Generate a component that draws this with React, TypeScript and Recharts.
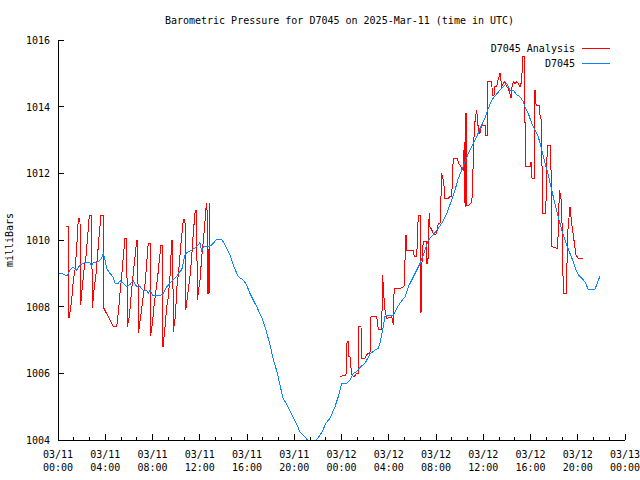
import React from 'react';
import { LineChart, Line, XAxis, YAxis } from 'recharts';

// ---- Data (hours since 2025-03-11 00:00 UTC, millibars) ----
const blueSeries: [number, number][] = [
  [0, 1009.01], [0.31, 1009.0], [0.74, 1008.92], [1.02, 1009.1], [1.27, 1009.19], [1.58, 1009.1],
  [1.86, 1009.25], [2.29, 1009.32], [2.71, 1009.32], [2.85, 1009.22], [2.99, 1009.32], [3.41, 1009.35],
  [3.7, 1009.45], [3.83, 1009.6], [3.98, 1009.4], [4.12, 1009.15], [4.4, 1009.0], [4.68, 1008.88],
  [4.83, 1008.7], [5.1, 1008.7], [5.25, 1008.78], [5.53, 1008.7], [5.82, 1008.6], [6.1, 1008.67],
  [6.37, 1008.78], [6.66, 1008.6], [6.94, 1008.6], [7.22, 1008.5], [7.51, 1008.5], [7.64, 1008.4],
  [7.79, 1008.5], [8.07, 1008.32], [8.36, 1008.35], [8.63, 1008.32], [8.91, 1008.4], [9.2, 1008.6],
  [9.48, 1008.7], [9.76, 1008.82], [10.05, 1008.9], [10.18, 1009.0], [10.47, 1009.1], [10.75, 1009.55],
  [10.9, 1009.62], [11.32, 1009.7], [11.74, 1009.8], [12.02, 1009.92], [12.17, 1009.65], [12.3, 1009.8],
  [12.72, 1009.8], [13.01, 1009.85], [13.43, 1010.02], [13.86, 1010.02], [14.14, 1009.85], [14.42, 1009.65],
  [14.56, 1009.55], [14.84, 1009.25], [15.26, 1008.9], [15.69, 1008.8], [15.97, 1008.65], [16.25, 1008.4],
  [16.53, 1008.2], [16.82, 1008.0], [17.27, 1007.66], [17.61, 1007.3], [17.95, 1006.85], [18.2, 1006.46],
  [18.54, 1006.04], [18.79, 1005.65], [19.05, 1005.26], [19.39, 1005.05], [19.81, 1004.75], [20.23, 1004.45],
  [20.49, 1004.24], [20.91, 1004.09], [21.33, 1003.91], [21.76, 1003.94], [22.01, 1004.06], [22.35, 1004.24],
  [22.69, 1004.51], [23.03, 1004.65], [23.45, 1005.0], [23.73, 1005.3], [24.02, 1005.7], [24.44, 1005.7],
  [24.72, 1005.8], [25.0, 1006.0], [25.28, 1006.05], [25.56, 1006.18], [25.99, 1006.3], [26.41, 1006.58],
  [26.84, 1006.7], [27.12, 1006.75], [27.26, 1006.9], [27.54, 1007.4], [27.68, 1007.7], [27.96, 1007.75],
  [28.39, 1007.75], [28.67, 1007.95], [28.95, 1008.1], [29.38, 1008.3], [29.66, 1008.6], [29.95, 1008.8],
  [30.65, 1009.3], [30.92, 1009.55], [31.35, 1010.0], [31.77, 1010.15], [32.19, 1010.35], [32.48, 1010.5],
  [32.91, 1010.8], [33.33, 1011.2], [33.61, 1011.5], [33.89, 1011.85], [34.18, 1012.1], [34.46, 1012.35],
  [34.74, 1012.6], [35.16, 1012.9], [35.45, 1013.1], [35.73, 1013.35], [36.15, 1013.65], [36.43, 1013.95],
  [36.72, 1014.2], [37.42, 1014.5], [37.99, 1014.7], [38.27, 1014.5], [38.54, 1014.5], [38.83, 1014.35],
  [39.11, 1014.3], [39.39, 1014.15], [39.53, 1014.0], [39.81, 1013.8], [40.1, 1013.5], [40.38, 1013.3],
  [40.66, 1013.1], [40.95, 1012.7], [41.23, 1012.3], [41.51, 1011.95], [41.79, 1011.5], [42.07, 1011.1],
  [42.35, 1010.7], [42.64, 1010.3], [43.06, 1009.85], [43.34, 1009.6], [43.62, 1009.35], [43.85, 1009.1],
  [44.05, 1008.95], [44.33, 1008.85], [44.61, 1008.75], [44.89, 1008.52], [45.46, 1008.52], [45.88, 1008.92],
];

const analysisDay1: [number, number][] = [
  [0.68, 1010.42], [0.89, 1010.42], [0.93, 1007.66], [1.02, 1007.85], [1.16, 1008.2], [1.3, 1008.8],
  [1.44, 1009.1], [1.58, 1009.76], [1.72, 1010.65], [1.86, 1010.65], [1.92, 1008.05], [2.06, 1008.6],
  [2.2, 1009.1], [2.37, 1009.5], [2.51, 1010.1], [2.65, 1010.75], [2.85, 1010.75], [2.9, 1007.95],
  [3.05, 1008.5], [3.22, 1009.0], [3.36, 1009.6], [3.5, 1010.2], [3.64, 1010.75], [3.83, 1010.75],
  [3.89, 1007.95], [4.68, 1007.4], [4.97, 1007.4], [5.1, 1007.8], [5.25, 1008.4], [5.39, 1008.9],
  [5.53, 1009.5], [5.67, 1010.05], [5.82, 1010.05], [5.87, 1007.4], [6.04, 1007.7], [6.18, 1008.3],
  [6.37, 1009.0], [6.52, 1009.5], [6.66, 1010.0], [6.75, 1010.0], [6.8, 1007.2], [7.0, 1007.7],
  [7.17, 1008.2], [7.37, 1008.7], [7.51, 1009.3], [7.64, 1009.9], [7.79, 1009.9], [7.85, 1007.13],
  [8.02, 1007.6], [8.15, 1008.1], [8.3, 1008.5], [8.44, 1008.9], [8.58, 1009.4], [8.72, 1009.85],
  [8.83, 1009.85], [8.89, 1006.8], [9.06, 1007.4], [9.2, 1008.0], [9.34, 1008.3], [9.48, 1008.9],
  [9.63, 1010.0], [9.71, 1010.0], [9.76, 1007.25], [9.93, 1007.7], [10.07, 1008.6], [10.22, 1009.1],
  [10.41, 1009.9], [10.61, 1010.62], [10.75, 1010.62], [10.81, 1007.9], [11.03, 1008.5], [11.17, 1008.9],
  [11.32, 1009.5], [11.45, 1010.2], [11.62, 1010.9], [11.74, 1010.9], [11.79, 1008.2], [12.02, 1008.8],
  [12.17, 1009.5], [12.36, 1010.2], [12.53, 1010.95], [12.61, 1011.1], [12.67, 1008.4], [12.76, 1008.4],
  [12.81, 1011.1], [12.84, 1008.4],
];

const analysisDay2: [number, number][] = [
  [23.87, 1005.9], [24.38, 1005.95], [24.47, 1006.95], [24.58, 1006.95], [24.59, 1006.5], [24.72, 1006.5],
  [24.86, 1005.95], [25.08, 1005.9], [25.29, 1006.0], [25.4, 1006.0], [25.48, 1007.4], [25.65, 1007.4],
  [25.71, 1006.45], [25.99, 1006.45], [26.13, 1006.55], [26.27, 1006.6], [26.41, 1006.6], [26.5, 1007.7],
  [26.98, 1007.7], [27.06, 1007.45], [27.12, 1007.32], [27.4, 1007.32], [27.49, 1008.95], [27.54, 1008.5],
  [27.68, 1007.9], [27.83, 1007.65], [28.25, 1007.7], [28.39, 1007.45], [28.4, 1008.3], [28.53, 1008.55],
  [28.95, 1008.55], [29.29, 1008.6], [29.46, 1010.15], [29.52, 1009.7], [30.08, 1009.7], [30.16, 1009.5],
  [30.37, 1009.5], [30.5, 1010.75], [30.65, 1010.75], [30.66, 1009.3], [30.73, 1007.8], [30.81, 1009.3],
  [30.92, 1009.95], [31.21, 1009.95], [31.22, 1009.3], [31.32, 1009.3], [31.35, 1010.2], [31.43, 1010.8],
  [31.49, 1010.4], [31.64, 1010.3], [31.77, 1010.2], [31.92, 1010.15], [32.06, 1010.2], [32.19, 1010.5],
  [32.34, 1010.5], [32.42, 1011.25], [32.48, 1012.0], [32.62, 1011.8], [32.7, 1011.55], [32.76, 1011.25],
  [33.04, 1011.25], [33.18, 1011.3], [33.33, 1011.3], [33.46, 1012.45], [33.84, 1012.45], [33.89, 1012.3],
  [34.03, 1012.25], [34.18, 1012.15], [34.31, 1012.1], [34.4, 1012.95], [34.46, 1011.0], [34.54, 1013.8],
  [34.6, 1011.05], [34.79, 1011.05], [34.96, 1011.1], [35.07, 1011.3], [35.16, 1012.45], [35.24, 1013.3],
  [35.3, 1013.55], [35.44, 1013.9], [35.53, 1013.6], [35.58, 1013.3], [35.72, 1013.2], [35.87, 1013.45],
  [36.15, 1013.45], [36.21, 1013.15], [36.38, 1013.15], [36.39, 1014.75], [36.72, 1014.75], [36.77, 1014.35],
  [36.91, 1014.35], [36.99, 1014.6], [37.14, 1014.6], [37.25, 1014.8], [37.42, 1015.0], [37.56, 1014.6],
  [37.7, 1014.7], [37.84, 1014.75], [37.98, 1014.6], [38.12, 1014.55], [38.26, 1014.4], [38.35, 1014.25],
  [38.41, 1014.55], [38.54, 1014.75], [38.69, 1014.7], [38.83, 1014.75], [38.97, 1014.7], [39.11, 1014.6],
  [39.25, 1014.75], [39.34, 1015.5], [39.47, 1015.5], [39.58, 1012.2], [39.96, 1012.2], [40.04, 1012.35],
  [40.13, 1011.85], [40.3, 1011.85], [40.38, 1014.5], [40.47, 1014.05], [40.74, 1014.05], [40.8, 1013.75],
  [40.95, 1013.55], [41.0, 1010.8], [41.29, 1010.8], [41.42, 1012.85], [41.71, 1012.85], [41.82, 1009.8],
  [42.27, 1009.75], [42.35, 1010.2], [42.44, 1011.5], [42.56, 1011.3], [42.64, 1011.05], [42.78, 1008.4],
  [43.06, 1008.4], [43.12, 1010.1], [43.34, 1011.0], [43.49, 1010.5], [43.62, 1010.15], [43.85, 1009.55],
  [44.05, 1009.45], [44.43, 1009.45],
];

const xMajorTicks = [0, 4, 8, 12, 16, 20, 24, 28, 32, 36, 40, 44, 48];
const xTickDates = ['03/11', '03/11', '03/11', '03/11', '03/11', '03/11', '03/12', '03/12', '03/12', '03/12', '03/12', '03/12', '03/13'];
const xTickTimes = ['00:00', '04:00', '08:00', '12:00', '16:00', '20:00', '00:00', '04:00', '08:00', '12:00', '16:00', '20:00', '00:00'];
const yTicks = [1004, 1006, 1008, 1010, 1012, 1014, 1016];

const titleText = 'Barometric Pressure for D7045 on 2025-Mar-11 (time in UTC)';
const yAxisTitle = 'milliBars';
const analysisName = 'D7045 Analysis';
const stationName = 'D7045';

// ---- derived tables ----
const blueData = blueSeries.map(([h, v]) => ({ h, v }));
const redData = [
  ...analysisDay1.map(([h, v]) => ({ h, v })),
  { h: 18, v: null as number | null },
  ...analysisDay2.map(([h, v]) => ({ h, v })),
];

const allXTicks: number[] = [];
xMajorTicks.forEach((t, i) => {
  allXTicks.push(t);
  if (i < xMajorTicks.length - 1) {
    const step = (xMajorTicks[i + 1] - t) / 3;
    allXTicks.push(t + step, t + 2 * step);
  }
});

const FONT = '"DejaVu Sans Mono", monospace';
const RED = '#ff0000';
const BLUE = '#0a84ff';
const MAJ = 6;
const MIN = 3;

function BottomTick(props: any) {
  const { x, y, payload } = props;
  const idx = xMajorTicks.indexOf(payload.value);
  const major = idx >= 0;
  return (
    <g>
      <line x1={x} x2={x} y1={y} y2={y - (major ? MAJ : MIN)} stroke="#000" shapeRendering="crispEdges" />
      {major && (
        <text x={x} y={y + 18} textAnchor="middle" fontFamily={FONT} fontSize={10} fill="#000">
          <tspan x={x} dy={0}>{xTickDates[idx]}</tspan>
          <tspan x={x} dy={13}>{xTickTimes[idx]}</tspan>
        </text>
      )}
    </g>
  );
}

function TopTick(props: any) {
  const { x, y, payload } = props;
  const major = xMajorTicks.indexOf(payload.value) >= 0;
  return <line x1={x} x2={x} y1={y} y2={y + (major ? MAJ : MIN)} stroke="#000" shapeRendering="crispEdges" />;
}

function LeftTick(props: any) {
  const { x, y, payload } = props;
  return (
    <g>
      <line x1={x} x2={x + MAJ} y1={y} y2={y} stroke="#000" shapeRendering="crispEdges" />
      <text x={x - 8} y={y} dy={4} textAnchor="end" fontFamily={FONT} fontSize={10} fill="#000">
        {payload.value}
      </text>
    </g>
  );
}

function RightTick(props: any) {
  const { x, y } = props;
  return <line x1={x} x2={x - MAJ} y1={y} y2={y} stroke="#000" shapeRendering="crispEdges" />;
}

export default function App() {
  const axisLine = { stroke: '#000', shapeRendering: 'crispEdges' } as any;
  return (
    <div style={{ position: 'absolute', left: 0, top: 0, width: 640, height: 480, background: '#fff' }}>
      <LineChart width={640} height={480} margin={{ top: 40, right: 15, bottom: 0, left: 0 }}>
        <XAxis
          xAxisId="b"
          dataKey="h"
          type="number"
          domain={[0, 48]}
          ticks={allXTicks}
          interval={0}
          height={40}
          tickSize={0}
          tickMargin={0}
          axisLine={axisLine}
          tickLine={false}
          tick={<BottomTick />}
          allowDataOverflow
        />
        <XAxis
          xAxisId="t"
          orientation="top"
          dataKey="h"
          type="number"
          domain={[0, 48]}
          ticks={allXTicks}
          interval={0}
          height={0}
          tickSize={0}
          tickMargin={0}
          axisLine={axisLine}
          tickLine={false}
          tick={<TopTick />}
          allowDataOverflow
        />
        <YAxis
          yAxisId="l"
          type="number"
          domain={[1004, 1016]}
          ticks={yTicks}
          interval={0}
          width={58}
          tickSize={0}
          tickMargin={0}
          axisLine={axisLine}
          tickLine={false}
          tick={<LeftTick />}
          allowDataOverflow
        />
        <YAxis
          yAxisId="r"
          orientation="right"
          type="number"
          domain={[1004, 1016]}
          ticks={yTicks}
          interval={0}
          width={0}
          tickSize={0}
          tickMargin={0}
          axisLine={axisLine}
          tickLine={false}
          tick={<RightTick />}
          allowDataOverflow
        />
        <Line
          xAxisId="b"
          yAxisId="l"
          data={redData}
          dataKey="v"
          type="linear"
          stroke={RED}
          strokeWidth={1}
          shapeRendering="crispEdges"
          dot={false}
          activeDot={false}
          connectNulls={false}
          isAnimationActive={false}
        />
        <Line
          xAxisId="b"
          yAxisId="l"
          data={blueData}
          dataKey="v"
          type="linear"
          stroke={BLUE}
          strokeWidth={1}
          shapeRendering="crispEdges"
          dot={false}
          activeDot={false}
          isAnimationActive={false}
        />
      </LineChart>
      <svg width={640} height={480} style={{ position: 'absolute', left: 0, top: 0, pointerEvents: 'none' }}>
        <text x={339.5} y={24} textAnchor="middle" fontFamily={FONT} fontSize={10} fill="#000">{titleText}</text>
        <text x={0} y={0} transform="translate(13,240) rotate(-90)" textAnchor="middle" fontFamily={FONT} fontSize={10} fill="#000">
          {yAxisTitle}
        </text>
        <text x={575} y={52} textAnchor="end" fontFamily={FONT} fontSize={10} fill="#000">{analysisName}</text>
        <line x1={582} x2={610} y1={48.5} y2={48.5} stroke={RED} strokeWidth={1} shapeRendering="crispEdges" />
        <text x={575} y={67} textAnchor="end" fontFamily={FONT} fontSize={10} fill="#000">{stationName}</text>
        <line x1={582} x2={610} y1={63.5} y2={63.5} stroke={BLUE} strokeWidth={1} shapeRendering="crispEdges" />
      </svg>
    </div>
  );
}
